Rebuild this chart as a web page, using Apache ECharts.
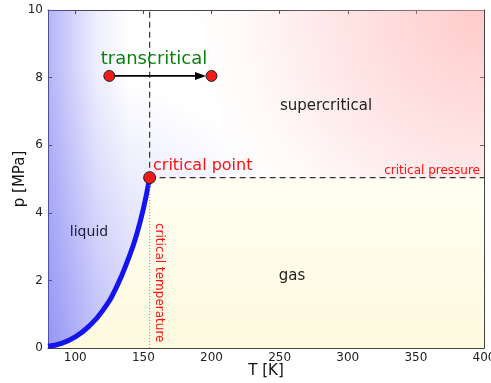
<!DOCTYPE html>
<html><head><meta charset="utf-8">
<script src="https://cdn.jsdelivr.net/npm/echarts@6/dist/echarts.min.js"></script>
<style>html,body{margin:0;padding:0;background:#fff}#c{width:491px;height:383px}</style>
</head><body><div id="c"></div>
<script>
// ---- data ----
const xTicks = [100, 150, 200, 250, 300, 350, 400];
const yTicks = [0, 2, 4, 6, 8, 10];
const xRange = [80, 400];
const yRange = [0, 10];
const curveT = [80, 90, 100, 110, 120, 130, 140, 145, 150, 154.6];
const curveP = [0.05, 0.14, 0.33, 0.64, 1.1, 1.78, 2.75, 3.35, 4.12, 5.04];
const criticalT = 154.6;
const criticalP = 5.04;
const transT = [125, 200];
const transP = [8.05, 8.05];
const regionNames = ['liquid', 'gas', 'supercritical'];

const FONT = '"DejaVu Sans", "Liberation Sans", sans-serif';
const chart = echarts.init(document.getElementById('c'), null, {renderer: 'canvas'});

function rectOf(api) {
  const a = api.coord([api.value(0), api.value(3)]);
  const b = api.coord([api.value(2), api.value(1)]);
  return {x: a[0], y: a[1], width: b[0] - a[0], height: b[1] - a[1]};
}
function bgSeries(name, box, fill, z) {
  return {
    type: 'custom', name, z, silent: true, clip: true,
    data: [box],
    renderItem: (params, api) => ({type: 'rect', shape: rectOf(api), style: {fill}})
  };
}
const gasFill = new echarts.graphic.LinearGradient(0, 0, 0, 1, [
  {offset: 0, color: '#fffef2'}, {offset: 1, color: '#fdfade'}]);

const axisCol = '#444';
const option = {
  animation: false,
  backgroundColor: '#fff',
  grid: {left: 48, right: 7, top: 10, bottom: 35, containLabel: false, outerBoundsMode: 'none'},
  xAxis: [{
    type: 'value', min: xRange[0], max: xRange[1], position: 'bottom',
    name: 'T [K]', nameLocation: 'middle', nameGap: 16, nameMoveOverlap: false,
    nameTextStyle: {fontSize: 15, color: '#111', fontFamily: FONT},
    axisLine: {onZero: false, lineStyle: {color: axisCol, width: 1}},
    axisTick: {inside: true, length: 4, customValues: xTicks, lineStyle: {color: axisCol}},
    axisLabel: {customValues: xTicks, fontSize: 12, color: '#222', margin: 4, fontFamily: FONT},
    splitLine: {show: false}
  }, {
    type: 'value', min: xRange[0], max: xRange[1], position: 'top',
    axisLine: {show: true, onZero: false, lineStyle: {color: axisCol, width: 1}},
    axisTick: {show: true, inside: true, length: 4, customValues: xTicks, lineStyle: {color: axisCol}},
    axisLabel: {show: false}, splitLine: {show: false}
  }],
  yAxis: [{
    type: 'value', min: yRange[0], max: yRange[1], interval: 2, position: 'left',
    name: 'p [MPa]', nameLocation: 'middle', nameGap: 20, nameRotate: 90, nameMoveOverlap: false,
    nameTextStyle: {fontSize: 15, color: '#111', fontFamily: FONT},
    axisLine: {show: true, onZero: false, lineStyle: {color: axisCol, width: 1}},
    axisTick: {show: true, inside: true, length: 4, lineStyle: {color: axisCol}},
    axisLabel: {fontSize: 12, color: '#222', margin: 5, fontFamily: FONT},
    splitLine: {show: false}
  }, {
    type: 'value', min: yRange[0], max: yRange[1], interval: 2, position: 'right',
    axisLine: {show: true, onZero: false, lineStyle: {color: axisCol, width: 1}},
    axisTick: {show: true, inside: true, length: 4, lineStyle: {color: axisCol}},
    axisLabel: {show: false}, splitLine: {show: false}
  }],
  series: [
    bgSeries('blueA', [80, 0, 140, 10], new echarts.graphic.LinearGradient(0, 0, 1, 0, [
      {offset: 0, color: 'rgba(90,90,240,0.45)'}, {offset: 0.3, color: 'rgba(90,90,240,0.27)'},
      {offset: 0.6, color: 'rgba(90,90,240,0.1)'}, {offset: 1, color: 'rgba(90,90,240,0)'}]), 1),
    bgSeries('blueB', [80, 0, 400, 10], new echarts.graphic.RadialGradient(0, 1, 0.83, [
      {offset: 0, color: 'rgba(90,90,240,0.35)'}, {offset: 0.5, color: 'rgba(90,90,240,0.17)'},
      {offset: 1, color: 'rgba(90,90,240,0)'}]), 1),
    bgSeries('red', [80, criticalP, 400, 10], new echarts.graphic.RadialGradient(1, 0, 1.8, [
      {offset: 0, color: 'rgba(255,160,160,0.55)'}, {offset: 0.5, color: 'rgba(255,160,160,0.26)'},
      {offset: 0.8, color: 'rgba(255,160,160,0.06)'}, {offset: 1, color: 'rgba(255,160,160,0)'}]), 1),
    bgSeries('gasRect', [criticalT, 0, 400, criticalP], gasFill, 2),
    {
      type: 'line', name: 'vapor pressure', z: 3, smooth: true, showSymbol: false, silent: true,
      data: curveT.map((t, i) => [t, curveP[i]]),
      lineStyle: {color: '#1414f0', width: 5},
      areaStyle: {color: gasFill, opacity: 1}
    },
    {
      type: 'line', name: 'Tc upper', z: 4, showSymbol: false, silent: true,
      data: [[criticalT, criticalP], [criticalT, yRange[1]]],
      lineStyle: {color: '#333', width: 1.2, type: [6, 4]}
    },
    {
      type: 'line', name: 'Tc lower', z: 4, showSymbol: false, silent: true,
      data: [[criticalT, yRange[0]], [criticalT, criticalP]],
      lineStyle: {color: '#999', width: 1, type: [1, 2]}
    },
    {
      type: 'line', name: 'Pc', z: 4, showSymbol: false, silent: true,
      data: [[criticalT, criticalP], [xRange[1], criticalP]],
      lineStyle: {color: '#333', width: 1.2, type: [6, 4]}
    },
    {
      type: 'custom', name: 'arrow', z: 5, silent: true,
      data: [[transT[0], transP[0], transT[1], transP[1]]],
      renderItem: (params, api) => {
        const p0 = api.coord([api.value(0), api.value(1)]);
        const p1 = api.coord([api.value(2), api.value(3)]);
        const tipX = p1[0] - 5.5, y = p1[1], hl = 11, hw = 4;
        return {type: 'group', children: [
          {type: 'line', shape: {x1: p0[0], y1: p0[1], x2: tipX - hl + 2, y2: y}, style: {stroke: '#000', lineWidth: 1.6}},
          {type: 'polygon', shape: {points: [[tipX, y], [tipX - hl, y - hw], [tipX - hl, y + hw]]}, style: {fill: '#000'}}
        ]};
      }
    },
    {
      type: 'scatter', name: 'transcritical', z: 6, silent: true, symbolSize: 11,
      data: transT.map((t, i) => [t, transP[i]]),
      itemStyle: {color: '#f01a1a', borderColor: '#222', borderWidth: 1, opacity: 1}
    },
    {
      type: 'scatter', name: 'critical point', z: 6, silent: true, symbolSize: 12,
      data: [[criticalT, criticalP]],
      itemStyle: {color: '#f01a1a', borderColor: '#222', borderWidth: 1, opacity: 1}
    }
  ],
  graphic: [
    {type: 'text', z: 100, x: 154, y: 59, style: {text: 'transcritical', fill: '#0b820b', font: '18px ' + FONT, align: 'center', verticalAlign: 'middle'}},
    {type: 'text', z: 100, x: 153, y: 166, style: {text: 'critical point', fill: '#ff1010', font: '16px ' + FONT, align: 'left', verticalAlign: 'middle'}},
    {type: 'text', z: 100, x: 480, y: 171, style: {text: 'critical pressure', fill: '#ff1010', font: '12px ' + FONT, align: 'right', verticalAlign: 'middle'}},
    {type: 'text', z: 100, x: 159, y: 223, rotation: -Math.PI / 2, style: {text: 'critical temperature', fill: '#ff1010', font: '12px ' + FONT, align: 'left', verticalAlign: 'middle'}},
    {type: 'text', z: 100, x: 89, y: 232, style: {text: regionNames[0], fill: '#1c1c3a', font: '14px ' + FONT, align: 'center', verticalAlign: 'middle'}},
    {type: 'text', z: 100, x: 292, y: 276, style: {text: regionNames[1], fill: '#222', font: '15px ' + FONT, align: 'center', verticalAlign: 'middle'}},
    {type: 'text', z: 100, x: 326, y: 106, style: {text: regionNames[2], fill: '#222', font: '15px ' + FONT, align: 'center', verticalAlign: 'middle'}}
  ]
};
chart.setOption(option);
</script>
</body></html>
